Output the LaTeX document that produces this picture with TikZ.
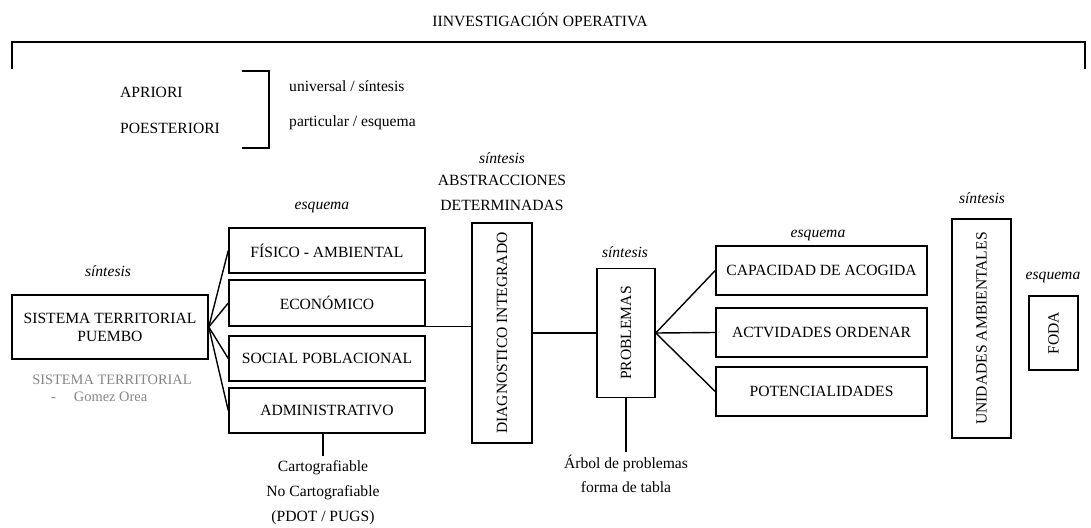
\documentclass[tikz,border=0pt]{standalone}
\usepackage{fontspec}
\usepackage{graphicx}
\setmainfont{Liberation Serif}
\begin{document}
\begin{tikzpicture}[x=1pt,y=-1pt,
  every node/.style={font=\fontsize{15.6}{18}\selectfont, inner sep=0pt},
  box/.style={draw, line width=1.5pt, align=center},
  lbl/.style={font=\fontsize{15.6}{18}\selectfont},
  it/.style={font=\fontsize{15.6}{18}\selectfont\itshape},
  grey/.style={font=\fontsize{14.4}{17}\selectfont, text=black!48},
  conn/.style={line width=1.4pt}]
\useasboundingbox (0,0) rectangle (1091,527);

% heading and the bracket below it
\node[lbl] (title) at (540,20) {IINVESTIGACIÓN OPERATIVA};
\draw[conn] (12,69) -- (12,42) -- (1085,42) -- (1085,69);

% a priori / a posteriori
\node[lbl, anchor=west] (apri) at (120,92) {APRIORI};
\node[lbl, anchor=west] (apos) at (120,128) {POESTERIORI};
\draw[conn] (242,71) -- (269,71) -- (269,148) -- (242,148);
\node[lbl, anchor=west] (univ) at (289,86) {universal / síntesis};
\node[lbl, anchor=west] (part) at (289,123) {particular / esquema};

% territorial system
\node[it] (s1) at (108,271) {síntesis};
\node[box, minimum width=196pt, minimum height=64pt] (sys) at (110,327)
  {SISTEMA TERRITORIAL\\PUEMBO};
\node[grey] (g1) at (112,380) {SISTEMA TERRITORIAL};
\node[grey, anchor=west] (g2) at (51,397) {-\hspace{18pt}Gomez Orea};

% subsystems
\node[it] (e1) at (322,207) {esquema};
\node[box, minimum width=196pt, minimum height=45pt] (fis) at (327,250.5) {FÍSICO - AMBIENTAL};
\node[box, minimum width=196pt, minimum height=46pt] (eco) at (327,303) {ECONÓMICO};
\node[box, minimum width=196pt, minimum height=45pt] (soc) at (327,358.5) {SOCIAL POBLACIONAL};
\node[box, minimum width=196pt, minimum height=45pt] (adm) at (327,410.5) {ADMINISTRATIVO};
\foreach \b in {fis,eco,soc,adm} \draw[conn] (sys.east) -- (\b.west);

\coordinate (admend) at (323,456);
\draw[conn] (adm.south -| admend) -- (admend);
\node[lbl] (c1) at (323,468) {Cartografiable};
\node[lbl] (c2) at (323,493) {No Cartografiable};
\node[lbl] (c3) at (323,518) {(PDOT / PUGS)};

% integrated diagnosis
\node[it] (s2) at (502,158) {síntesis};
\node[lbl] (ab1) at (502,180) {ABSTRACCIONES};
\node[lbl] (ab2) at (502,205) {DETERMINADAS};
\node[box, minimum width=60pt, minimum height=220pt] (diag) at (502,333)
  {\rotatebox{90}{DIAGNOSTICO INTEGRADO}};
\draw[conn] (eco.south east) -- (eco.south east -| diag.west);

% problems
\node[it] (s3) at (625,252) {síntesis};
\node[box, minimum width=58pt, minimum height=129pt] (prob) at (626,333)
  {\rotatebox{90}{PROBLEMAS}};
\draw[conn] (diag.east) -- (prob.west);
\coordinate (probend) at (626,452);
\draw[conn] (prob.south) -- (probend);
\node[lbl] (ar1) at (626,463) {Árbol de problemas};
\node[lbl] (ar2) at (626,487) {forma de tabla};

% outcomes
\node[it] (e2) at (818,235) {esquema};
\node[box, minimum width=211pt, minimum height=49pt] (cap) at (821.5,270.5) {CAPACIDAD DE ACOGIDA};
\node[box, minimum width=211pt, minimum height=49pt] (act) at (821.5,332.5) {ACTVIDADES ORDENAR};
\node[box, minimum width=211pt, minimum height=49pt] (pot) at (821.5,391.5) {POTENCIALIDADES};
\foreach \b in {cap,act,pot} \draw[conn] (prob.east) -- (\b.west);

% environmental units and SWOT
\node[it] (s4) at (982,198) {síntesis};
\node[box, minimum width=59pt, minimum height=219pt] (uni) at (981.5,328.5)
  {\rotatebox{90}{UNIDADES AMBIENTALES}};
\node[it] (e3) at (1053,277) {esquema};
\node[box, minimum width=49pt, minimum height=74pt] (foda) at (1053.5,333)
  {\rotatebox{90}{FODA}};
\end{tikzpicture}
\end{document}
